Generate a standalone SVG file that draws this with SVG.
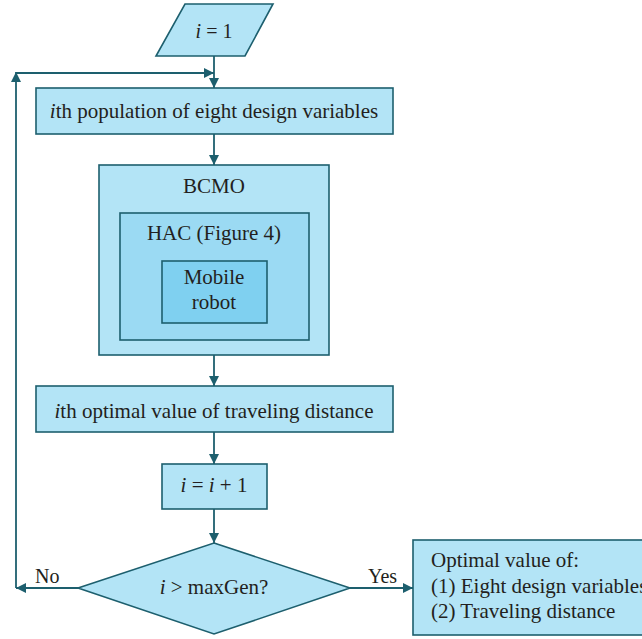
<svg xmlns="http://www.w3.org/2000/svg" width="642" height="639" viewBox="0 0 642 639">
  <defs>
    <style>
      .box { fill: #b3e4f6; stroke: #1d5f6e; stroke-width: 1.6; }
      .hac { fill: #9bdaf3; stroke: #1d5f6e; stroke-width: 1.6; }
      .mob { fill: #7fd0f0; stroke: #1d5f6e; stroke-width: 1.6; }
      .line { fill: none; stroke: #1d5f6e; stroke-width: 1.8; }
      .c { text-anchor: middle; }
      .it { font-style: italic; }
    </style>
    <marker id="arrow" viewBox="0 0 10 10" refX="10" refY="5" markerWidth="10" markerHeight="10" markerUnits="userSpaceOnUse" orient="auto">
      <path d="M0,0 L10,5 L0,10 Z" fill="#1d5f6e"/>
    </marker>
  </defs>

  <g font-family="'Liberation Serif', 'DejaVu Serif', serif" font-size="21" fill="#231f20">
  <g id="connectors">
    <line class="line" x1="214" y1="56" x2="214" y2="88" marker-end="url(#arrow)"/>
    <line class="line" x1="214" y1="134" x2="214" y2="165" marker-end="url(#arrow)"/>
    <line class="line" x1="214" y1="355" x2="214" y2="386" marker-end="url(#arrow)"/>
    <line class="line" x1="214" y1="432" x2="214" y2="464" marker-end="url(#arrow)"/>
    <line class="line" x1="214" y1="509" x2="214" y2="543" marker-end="url(#arrow)"/>
    <line class="line" x1="350" y1="588" x2="413" y2="588" marker-end="url(#arrow)"/>
    <line class="line" x1="78" y1="588" x2="16" y2="588" marker-end="url(#arrow)"/>
    <line class="line" x1="16" y1="588" x2="16" y2="72" marker-end="url(#arrow)"/>
    <line class="line" x1="16" y1="73" x2="214" y2="73" marker-end="url(#arrow)"/>
    <text x="35" y="583" font-size="20">No</text>
    <text x="368" y="583" font-size="20">Yes</text>
  </g>

  <g id="start">
    <polygon class="box" points="185,4 273,4 245,56 156,56"/>
    <text class="c" x="214" y="38" font-size="20"><tspan class="it">i</tspan> = 1</text>
  </g>

  <g id="population">
    <rect class="box" x="36" y="88" width="357" height="46"/>
    <text class="c" x="214" y="118"><tspan class="it">i</tspan>th population of eight design variables</text>
  </g>

  <g id="bcmo">
    <rect class="box" x="99" y="165" width="230" height="190"/>
    <text class="c" x="214" y="193">BCMO</text>
  </g>

  <g id="hac">
    <rect class="hac" x="120" y="213" width="189" height="127"/>
    <text class="c" x="214" y="240">HAC (Figure 4)</text>
  </g>

  <g id="robot">
    <rect class="mob" x="162" y="261" width="105" height="62"/>
    <text class="c" x="214" y="284">Mobile</text>
    <text class="c" x="214" y="309">robot</text>
  </g>

  <g id="optimal-distance">
    <rect class="box" x="36" y="386" width="357" height="46"/>
    <text class="c" x="214" y="418"><tspan class="it">i</tspan>th optimal value of traveling distance</text>
  </g>

  <g id="increment">
    <rect class="box" x="162" y="464" width="105" height="45"/>
    <text class="c" x="214" y="492"><tspan class="it">i</tspan> = <tspan class="it">i</tspan> + 1</text>
  </g>

  <g id="decision">
    <polygon class="box" points="214,543 350,588 214,634 78,588"/>
    <text class="c" x="214" y="594"><tspan class="it">i</tspan> &gt; maxGen?</text>
  </g>

  <g id="result">
    <rect class="box" x="413" y="540" width="240" height="95"/>
    <text x="431" y="567">Optimal value of:</text>
    <text x="431" y="593">(1) Eight design variables</text>
    <text x="431" y="618">(2) Traveling distance</text>
  </g>
  </g>
</svg>
